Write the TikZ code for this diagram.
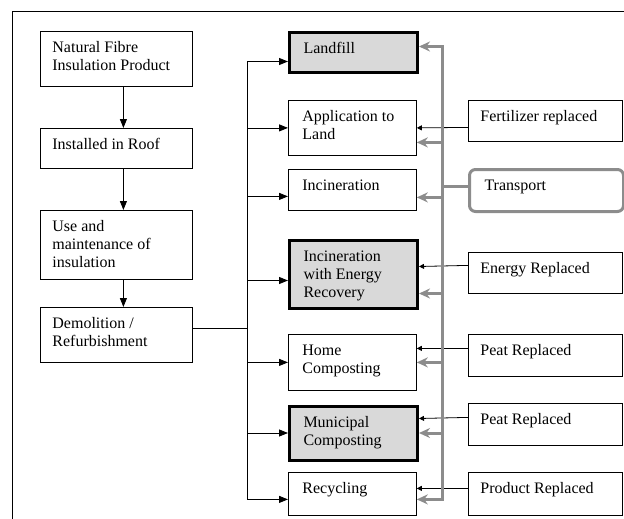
\documentclass[tikz,border=0pt]{standalone}
\usepackage{fontspec}
\setmainfont{Liberation Serif}
\usetikzlibrary{arrows.meta}
\newcommand{\bxt}[3]{\parbox[c][#1][t]{#2}{\raggedright\rule{0pt}{21pt}#3}}

\begin{document}
\begin{tikzpicture}[x=1pt,y=-1pt,
  bx/.style={draw,line width=0.8pt,inner ysep=0pt,inner xsep=12pt,anchor=north west,
             font=\fontsize{16}{18}\selectfont,fill=white},
  mid/.style={bx,inner xsep=14pt},
  hi/.style={mid,line width=3pt,fill=black!15},
  arr/.style={-{Triangle[length=9pt,width=7pt]},line width=0.8pt},
  sarr/.style={-{Triangle[length=5pt,width=5pt]},line width=0.8pt},
  garr/.style={-{Stealth[length=11pt,width=10pt]},line width=3pt,draw=black!45}]
  \useasboundingbox (0,0) rectangle (624,519);
  \draw[line width=1pt] (12,519) -- (12,12) -- (624,12);
  \node[bx] (nf) at (40,31) {\bxt{55pt}{128pt}{Natural Fibre\\Insulation Product}};
  \node[bx] (roof) at (40,128) {\bxt{40pt}{128pt}{Installed in Roof}};
  \node[bx] (use) at (40,210) {\bxt{69pt}{128pt}{Use and\\maintenance of\\insulation}};
  \node[bx] (demo) at (40,307) {\bxt{55pt}{128pt}{Demolition /\\Refurbishment}};
  \node[hi] (landfill) at (288,31.5) {\bxt{40pt}{100pt}{Landfill}};
  \node[mid] (app) at (288,100) {\bxt{55pt}{100pt}{Application to\\Land}};
  \node[mid] (inc) at (288,169) {\bxt{41pt}{100pt}{Incineration}};
  \node[hi] (ier) at (288,238.5) {\bxt{68pt}{100pt}{Incineration\\with Energy\\Recovery}};
  \node[mid] (home) at (288,334) {\bxt{56pt}{100pt}{Home\\Composting}};
  \node[hi] (muni) at (288,404.5) {\bxt{54pt}{100pt}{Municipal\\Composting}};
  \node[mid] (recyc) at (288,472) {\bxt{43pt}{100pt}{Recycling}};
  \node[bx] (fert) at (468,100) {\bxt{41pt}{130pt}{Fertilizer replaced}};
  \node[bx,draw=black!45,line width=3pt,rounded corners=6pt,inner xsep=15pt] (trans) at (468,168) {\bxt{42pt}{124pt}{Transport}};
  \node[bx] (energy) at (468,252) {\bxt{41pt}{130pt}{Energy Replaced}};
  \node[bx] (peat1) at (468,334) {\bxt{42pt}{130pt}{Peat Replaced}};
  \node[bx] (peat2) at (468,403) {\bxt{42pt}{130pt}{Peat Replaced}};
  \node[bx] (prod) at (468,472) {\bxt{43pt}{130pt}{Product Replaced}};
  \draw[arr] ([xshift=7pt]nf.south) -- ([xshift=7pt]roof.north);
  \draw[arr] ([xshift=7pt]roof.south) -- ([xshift=7pt]use.north);
  \draw[arr] ([xshift=7pt]use.south) -- ([xshift=7pt]demo.north);
  \coordinate (split) at ([xshift=55pt,yshift=6.5pt]demo.east);
  \draw[line width=0.8pt] ([yshift=6.5pt]demo.east) -- (split);
  \draw[arr] (split) |- ([yshift=-8.5pt]landfill.west);
  \draw[arr] (split) |- (app.west);
  \draw[arr] (split) |- ([yshift=-6.5pt]inc.west);
  \draw[arr] (split) |- ([yshift=-6.5pt]ier.west);
  \draw[arr] (split) |- (home.west);
  \draw[arr] (split) |- (muni.west);
  \draw[arr] (split) |- ([yshift=-5.5pt]recyc.west);
  \draw[sarr] ([yshift=-6.5pt]fert.west) -- (app.east);
  \draw[sarr] ([yshift=7.5pt]energy.west) -- ([yshift=7.5pt]ier.east);
  \draw[sarr] ([yshift=7pt]peat1.west) -- ([yshift=14pt]home.east);
  \draw[sarr] ([yshift=7pt]peat2.west) -- ([yshift=14.5pt]muni.east);
  \draw[sarr] ([yshift=5.5pt]prod.west) -- ([yshift=5.5pt]recyc.east);
  \coordinate (bus) at ([xshift=-26pt,yshift=4pt]trans.west);
  \draw[line width=3pt,black!45] ([yshift=4pt]trans.west) -- (bus);
  \draw[garr] (bus) |- ([yshift=6.5pt]landfill.east);
  \draw[garr] (bus) |- ([yshift=-14.5pt]app.east);
  \draw[garr] (bus) |- ([yshift=-7.5pt]inc.east);
  \draw[garr] (bus) |- ([yshift=-19.5pt]ier.east);
  \draw[garr] (bus) |- (home.east);
  \draw[garr] (bus) |- (muni.east);
  \draw[garr] (bus) |- ([yshift=-5.5pt]recyc.east);
\end{tikzpicture}
\end{document}
